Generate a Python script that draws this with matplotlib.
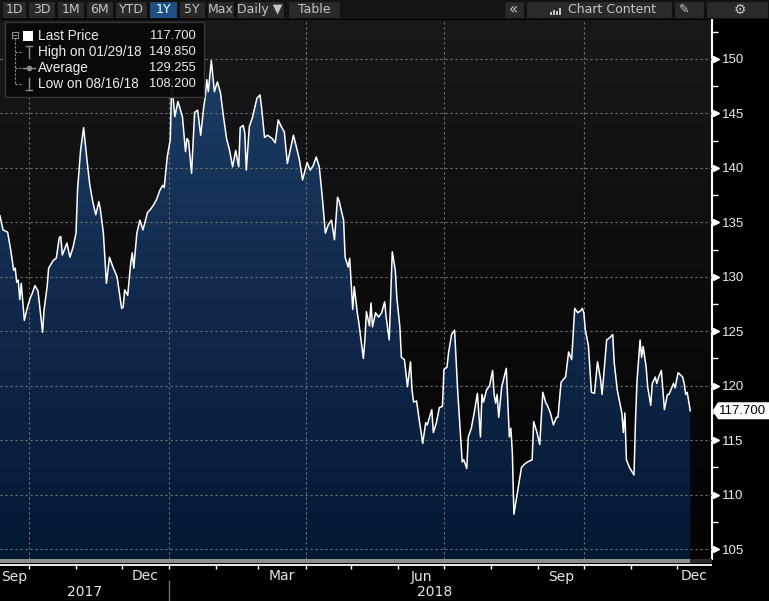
import numpy as np
import pandas as pd
import matplotlib
matplotlib.use("Agg")
import matplotlib.pyplot as plt
import matplotlib.dates as mdates
from matplotlib.colors import LinearSegmentedColormap
from matplotlib.patches import Rectangle, Polygon
import matplotlib.transforms as mtransforms

# ====================== DATA ======================
dates = [
    "2017-09-12", "2017-09-14", "2017-09-17", "2017-09-19", "2017-09-21", "2017-09-22", "2017-09-23",
    "2017-09-24", "2017-09-25", "2017-09-26", "2017-09-28", "2017-09-30", "2017-10-02", "2017-10-03",
    "2017-10-05", "2017-10-07", "2017-10-10", "2017-10-11", "2017-10-13", "2017-10-14", "2017-10-17",
    "2017-10-19", "2017-10-21", "2017-10-22", "2017-10-23", "2017-10-26", "2017-10-28", "2017-10-30",
    "2017-11-01", "2017-11-02", "2017-11-04", "2017-11-06", "2017-11-08", "2017-11-10", "2017-11-12",
    "2017-11-14", "2017-11-16", "2017-11-17", "2017-11-19", "2017-11-21", "2017-11-23", "2017-11-25",
    "2017-11-28", "2017-12-01", "2017-12-02", "2017-12-03", "2017-12-05", "2017-12-07", "2017-12-08",
    "2017-12-09", "2017-12-11", "2017-12-13", "2017-12-15", "2017-12-18", "2017-12-20", "2017-12-22",
    "2017-12-24", "2017-12-26", "2017-12-28", "2017-12-29", "2017-12-31",
    "2018-01-02", "2018-01-03", "2018-01-04", "2018-01-05", "2018-01-07", "2018-01-10", "2018-01-12",
    "2018-01-13", "2018-01-14", "2018-01-16", "2018-01-18", "2018-01-20", "2018-01-22", "2018-01-24",
    "2018-01-25", "2018-01-26", "2018-01-27", "2018-01-29", "2018-01-31", "2018-02-02", "2018-02-04",
    "2018-02-06", "2018-02-08", "2018-02-10", "2018-02-12", "2018-02-14", "2018-02-16", "2018-02-17",
    "2018-02-19", "2018-02-20", "2018-02-21", "2018-02-23", "2018-02-25", "2018-02-28", "2018-03-02",
    "2018-03-03", "2018-03-05", "2018-03-07", "2018-03-10", "2018-03-12", "2018-03-14", "2018-03-16",
    "2018-03-18", "2018-03-20", "2018-03-24", "2018-03-26", "2018-03-28", "2018-03-30", "2018-04-02",
    "2018-04-04", "2018-04-06", "2018-04-08", "2018-04-10", "2018-04-12", "2018-04-14", "2018-04-16",
    "2018-04-18", "2018-04-20", "2018-04-22", "2018-04-23", "2018-04-26", "2018-04-27", "2018-04-29",
    "2018-04-30", "2018-05-02", "2018-05-03", "2018-05-05", "2018-05-06", "2018-05-09", "2018-05-10",
    "2018-05-11", "2018-05-13", "2018-05-14", "2018-05-15", "2018-05-17", "2018-05-19", "2018-05-21",
    "2018-05-23", "2018-05-24", "2018-05-26", "2018-05-28", "2018-05-30", "2018-05-31", "2018-06-02",
    "2018-06-03", "2018-06-05", "2018-06-07", "2018-06-09", "2018-06-10", "2018-06-11", "2018-06-13",
    "2018-06-15", "2018-06-16", "2018-06-17", "2018-06-19", "2018-06-20", "2018-06-23", "2018-06-24",
    "2018-06-26", "2018-06-28", "2018-06-30", "2018-07-01", "2018-07-03", "2018-07-04", "2018-07-06",
    "2018-07-08", "2018-07-10", "2018-07-12", "2018-07-13", "2018-07-14", "2018-07-16", "2018-07-17",
    "2018-07-19", "2018-07-21", "2018-07-23", "2018-07-25", "2018-07-26", "2018-07-27", "2018-07-29",
    "2018-07-31", "2018-08-02", "2018-08-03", "2018-08-04", "2018-08-05", "2018-08-06", "2018-08-08",
    "2018-08-11", "2018-08-12", "2018-08-13", "2018-08-14", "2018-08-15", "2018-08-16", "2018-08-21",
    "2018-08-23", "2018-08-25", "2018-08-28", "2018-08-29", "2018-08-31", "2018-09-02", "2018-09-04",
    "2018-09-06", "2018-09-07", "2018-09-09", "2018-09-11", "2018-09-13", "2018-09-14", "2018-09-16",
    "2018-09-17", "2018-09-19", "2018-09-21", "2018-09-23", "2018-09-25", "2018-09-27", "2018-09-29",
    "2018-09-30", "2018-10-01", "2018-10-02", "2018-10-04", "2018-10-06", "2018-10-08", "2018-10-09",
    "2018-10-10", "2018-10-12", "2018-10-13", "2018-10-14", "2018-10-16", "2018-10-18", "2018-10-20",
    "2018-10-21", "2018-10-23", "2018-10-26", "2018-10-27", "2018-10-28", "2018-10-29", "2018-10-31",
    "2018-11-03", "2018-11-04", "2018-11-05", "2018-11-07", "2018-11-08", "2018-11-09", "2018-11-11",
    "2018-11-12", "2018-11-14", "2018-11-15", "2018-11-17", "2018-11-18", "2018-11-19", "2018-11-21",
    "2018-11-23", "2018-11-25", "2018-11-26", "2018-11-29", "2018-11-30", "2018-12-02", "2018-12-05",
    "2018-12-06", "2018-12-07", "2018-12-08", "2018-12-10",
]
prices = [
    135.6, 134.3, 134.1, 132.5, 130.6, 130.8, 129.5,
    129.7, 127.9, 129.4, 126.0, 127.2, 128.1, 128.4,
    129.2, 128.7, 124.9, 127.0, 129.1, 130.8, 131.5,
    131.7, 133.6, 133.7, 132.0, 133.1, 131.8, 132.7,
    134.0, 138.0, 141.6, 143.7, 141.0, 138.5, 136.9,
    135.7, 136.9, 136.2, 134.0, 129.4, 131.8, 131.0,
    130.0, 127.1, 127.2, 128.8, 128.3, 131.3, 132.2,
    130.8, 134.0, 135.2, 134.3, 135.9, 136.2, 136.6,
    137.1, 137.9, 138.4, 138.2, 141.0,
    142.6, 148.3, 146.2, 144.7, 146.1, 144.7, 141.5,
    142.7, 142.5, 139.5, 145.1, 145.3, 143.0, 145.6,
    146.5, 148.1, 147.0, 149.85, 147.0, 147.9, 146.9,
    144.7, 142.7, 141.6, 140.1, 141.6, 140.1, 143.7,
    143.9, 143.2, 139.8, 143.8, 144.6, 146.4, 146.7,
    145.6, 142.8, 143.0, 142.7, 142.3, 144.4, 143.8,
    143.3, 140.4, 143.0, 141.9, 140.7, 138.9, 140.5,
    139.8, 140.2, 141.0, 140.1, 137.3, 134.0, 134.8,
    135.2, 133.4, 137.3, 137.0, 135.2, 131.8, 130.9,
    131.7, 127.0, 129.1, 126.7, 125.8, 122.5, 124.2,
    126.8, 125.5, 127.6, 125.4, 126.7, 126.3, 126.7,
    127.7, 126.3, 124.2, 132.3, 130.6, 128.1, 125.4,
    122.6, 122.4, 119.9, 122.2, 119.6, 118.5, 118.6,
    116.6, 115.7, 114.7, 116.6, 116.4, 117.8, 115.7,
    116.6, 118.0, 118.1, 121.5, 121.7, 123.0, 124.7,
    125.1, 119.6, 115.3, 113.0, 113.2, 112.4, 115.3,
    116.1, 117.6, 119.3, 115.3, 119.2, 118.5, 119.6,
    120.0, 121.4, 119.2, 118.4, 119.2, 117.1, 119.9,
    121.6, 118.4, 115.3, 116.1, 113.8, 108.2, 112.5,
    112.8, 113.0, 113.2, 116.7, 115.8, 114.6, 119.4,
    118.4, 118.2, 117.5, 116.4, 117.1, 117.1, 120.3,
    120.5, 120.8, 123.1, 122.4, 127.1, 126.7, 126.9,
    127.1, 126.7, 125.1, 123.7, 119.4, 119.3, 120.8,
    122.2, 120.6, 119.2, 120.8, 124.2, 124.4, 124.7,
    122.1, 119.6, 117.5, 115.7, 117.5, 113.2, 112.5,
    111.8, 116.9, 120.5, 124.2, 122.6, 123.6, 121.7,
    119.9, 118.2, 120.2, 120.8, 120.2, 120.7, 121.4,
    117.8, 119.2, 119.2, 120.2, 119.8, 121.2, 120.8,
    120.2, 119.2, 119.4, 117.7,
]

legend_labels = ["Last Price", "High on 01/29/18", "Average", "Low on 08/16/18"]
legend_values = ["117.700", "149.850", "129.255", "108.200"]
last_price_tag = "117.700"

y_ticks = [105, 110, 115, 120, 125, 130, 135, 140, 145, 150]
month_labels = ["Sep", "Dec", "Mar", "Jun", "Sep", "Dec"]
year_labels = ["2017", "2018"]
toolbar_buttons = ["1D", "3D", "1M", "6M", "YTD", "1Y", "5Y", "Max", "Daily \u25BC", "Table"]

W, H = 769, 601
NARROW = ["Liberation Sans Narrow", "DejaVu Sans"]
PLAIN = ["Liberation Sans", "DejaVu Sans"]


def main():
    t = pd.to_datetime(dates)
    tn = mdates.date2num(t)
    p = np.array(prices)

    x_start = mdates.date2num(pd.Timestamp("2017-09-12"))
    x_end = x_start + 468.3

    fig = plt.figure(figsize=(W / 100, H / 100), dpi=100, facecolor="black")

    # ---------------- main price panel ----------------
    ax = fig.add_axes([0, 1 - 559 / H, 712 / W, (559 - 20) / H])
    ax.set_facecolor("black")
    y_lo, y_hi = 104.09, 153.58

    bg = LinearSegmentedColormap.from_list("bg", ["#19191c", "#0c0c0d", "#030303"])
    ax.imshow(np.linspace(0, 1, 256).reshape(-1, 1), extent=[x_start, x_end, y_lo, y_hi],
              aspect="auto", cmap=bg, origin="upper", zorder=0)

    area = ax.fill_between(tn, p, y_lo, facecolor="none", edgecolor="none")
    fillcm = LinearSegmentedColormap.from_list("fill", ["#1e4069", "#112a4d", "#041833"])
    img = ax.imshow(np.linspace(0, 1, 256).reshape(-1, 1), extent=[x_start, x_end, y_lo, y_hi],
                    aspect="auto", cmap=fillcm, origin="upper", zorder=1)
    img.set_clip_path(area.get_paths()[0], transform=ax.transData)

    ax.plot(tn, p, color="white", lw=1.1, zorder=3)

    quarters = pd.to_datetime(["2017-10-01", "2018-01-01", "2018-04-01", "2018-07-01", "2018-10-01"])
    ax.set_xticks(mdates.date2num(quarters))
    ax.set_yticks(y_ticks)
    ax.set_yticks(np.arange(107.5, 155, 5), minor=True)
    # limits after the ticks, so the ticks do not widen the view
    ax.set_xlim(x_start, x_end)
    ax.set_ylim(y_lo, y_hi)

    ax.set_axisbelow(False)
    ax.grid(True, which="major", color="#737373", lw=0.8, ls=(0, (2, 2.5)))
    ax.tick_params(axis="x", length=0, labelbottom=False)
    ax.yaxis.tick_right()
    ax.tick_params(axis="y", which="major", length=0, pad=7, labelcolor="#ececec", labelsize=9.5)
    ax.tick_params(axis="y", which="minor", length=4, width=1, color="white")
    for lab in ax.get_yticklabels():
        lab.set_family(PLAIN)
    for s in ["top", "left", "bottom"]:
        ax.spines[s].set_visible(False)
    ax.spines["right"].set_color("white")
    ax.spines["right"].set_linewidth(1.5)

    # triangle tick markers on the price axis
    trans = mtransforms.blended_transform_factory(ax.transAxes, ax.transData)
    ax.plot(np.full(len(y_ticks), 1 + 4 / 712), y_ticks, ls="none", marker=">", ms=5,
            color="white", transform=trans, clip_on=False, zorder=5)

    # ---------------- bottom date strip ----------------
    axb = fig.add_axes([0, 0, 712 / W, 1 - 559 / H])
    axb.set_xlim(x_start, x_end)
    axb.set_ylim(42, 0)
    axb.axis("off")
    last = tn[-1]
    axb.add_patch(Rectangle((x_start, 0), last - x_start, 3.5, color="#8e8e8e", lw=0))
    axb.add_patch(Rectangle((last, 0), x_end - last, 3.5, color="#2c2c2c", lw=0))
    axb.plot([x_start, x_end], [5.5, 5.5], color="white", lw=1.3)

    months = pd.date_range("2017-10-01", "2018-12-01", freq="MS")
    mn = mdates.date2num(months)
    axb.vlines(mn, 5.5, 9.5, color="white", lw=1)

    label_months = pd.to_datetime(["2017-09-01", "2017-12-01", "2018-03-01",
                                   "2018-06-01", "2018-09-01", "2018-12-01"])
    for name, m in zip(month_labels, label_months):
        a = max(mdates.date2num(m), x_start)
        b = min(mdates.date2num(m + pd.offsets.MonthBegin(1)), x_end)
        axb.text((a + b) / 2, 17.5, name, color="#e6e6e6", fontsize=10, family=NARROW,
                 ha="center", va="center")

    jan = mdates.date2num(pd.Timestamp("2018-01-01"))
    axb.plot([jan, jan], [22, 42], color="#6e6e6e", lw=1)
    axb.text((x_start + jan) / 2, 33, year_labels[0], color="#e6e6e6", fontsize=10,
             family=NARROW, ha="center", va="center")
    axb.text((jan + x_end) / 2 - 4, 33, year_labels[1], color="#e6e6e6", fontsize=10,
             family=NARROW, ha="center", va="center")

    # ---------------- overlay (pixel coords) ----------------
    ov = fig.add_axes([0, 0, 1, 1], facecolor="none")
    ov.set_xlim(0, W)
    ov.set_ylim(H, 0)
    ov.axis("off")

    # toolbar
    ov.add_patch(Rectangle((0, 0), W, 19, color="#141414", lw=0))
    spans = [(2, 26), (28, 55), (57, 84), (86, 113), (115, 147), (149, 177),
             (179, 205), (207, 234), (236, 284), (288, 340)]
    for name, (a, b) in zip(toolbar_buttons, spans):
        hi = name == "1Y"
        ov.add_patch(Rectangle((a, 1), b - a, 17, facecolor="#1e4f86" if hi else "#2a2a2a",
                               edgecolor="#111111", lw=0.8))
        ov.text((a + b) / 2, 9.5, name, color="white" if hi else "#c4c4c4", fontsize=9,
                family=NARROW, ha="center", va="center")
    ov.add_patch(Rectangle((504, 1), 20, 17, facecolor="#2a2a2a", edgecolor="#111111", lw=0.8))
    ov.text(514, 9.5, "\u00AB", color="#c4c4c4", fontsize=11, ha="center", va="center")
    ov.add_patch(Rectangle((526, 1), 146, 17, facecolor="#2a2a2a", edgecolor="#111111", lw=0.8))
    for i, hgt in enumerate([3, 5, 4, 7]):
        ov.add_patch(Rectangle((550 + i * 3, 15 - hgt), 2, hgt, color="#c4c4c4", lw=0))
    ov.text(568, 9.5, "Chart Content", color="#c4c4c4", fontsize=9, family=NARROW,
            ha="left", va="center")
    ov.add_patch(Rectangle((674, 1), 30, 17, facecolor="#2a2a2a", edgecolor="#111111", lw=0.8))
    ov.text(684, 9.5, "\u270E", color="#c4c4c4", fontsize=9, ha="center", va="center",
            family=["DejaVu Sans"])
    ov.add_patch(Rectangle((706, 1), 62, 17, facecolor="#2a2a2a", edgecolor="#111111", lw=0.8))
    ov.text(740, 9.5, "\u2699", color="#c4c4c4", fontsize=10, ha="center", va="center",
            family=["DejaVu Sans"])

    # legend box
    ov.add_patch(Rectangle((5, 22), 199, 75, facecolor="#080808", edgecolor="#3a3a3a",
                           lw=1, alpha=0.95, zorder=4))
    rows_y = [36, 52, 68, 84]
    grey = "#8c8c8c"
    ov.add_patch(Rectangle((11.5, 31.5), 6, 6, facecolor="none", edgecolor=grey, lw=0.8, zorder=5))
    ov.plot([13, 16], [34.5, 34.5], color=grey, lw=0.8, zorder=5)
    ov.plot([14.5, 14.5], [37.5, 84], color=grey, lw=0.8, ls=(0, (2, 1.5)), zorder=5)
    for yy in rows_y[1:]:
        ov.plot([14.5, 22], [yy, yy], color=grey, lw=0.8, ls=(0, (2, 1.5)), zorder=5)
    ov.add_patch(Rectangle((23, 30.5), 10, 10, color="white", lw=0, zorder=5))
    # high icon
    ov.plot([29, 29], [46, 58], color=grey, lw=1, zorder=5)
    ov.plot([26, 32], [46, 46], color=grey, lw=1, zorder=5)
    # average icon
    ov.plot([23, 35], [68, 68], color=grey, lw=1, zorder=5)
    ov.plot([29], [68], marker="o", ms=3, color=grey, zorder=5)
    # low icon
    ov.plot([29, 29], [78, 90], color=grey, lw=1, zorder=5)
    ov.plot([26, 32], [90, 90], color=grey, lw=1, zorder=5)
    for yy, lab, val in zip(rows_y, legend_labels, legend_values):
        ov.text(38, yy, lab, color="#ededed", fontsize=9.8, family=PLAIN, ha="left",
                va="center", zorder=6)
        ov.text(196, yy, val, color="#ededed", fontsize=9.3, family=PLAIN, ha="right",
                va="center", zorder=6)

    # last price tag on the axis
    yt = 59 + (150 - p[-1]) * 10.89
    tag = Polygon([(712.5, yt), (718, yt - 8.5), (769, yt - 8.5), (769, yt + 8.5), (718, yt + 8.5)],
                  closed=True, facecolor="white", edgecolor="none", zorder=6)
    ov.add_patch(tag)
    ov.text(743, yt + 0.5, last_price_tag, color="black", fontsize=9.5, family=PLAIN,
            ha="center", va="center", zorder=7)

    fig.savefig("out.png", dpi=100, facecolor="black")


if __name__ == "__main__":
    main()
